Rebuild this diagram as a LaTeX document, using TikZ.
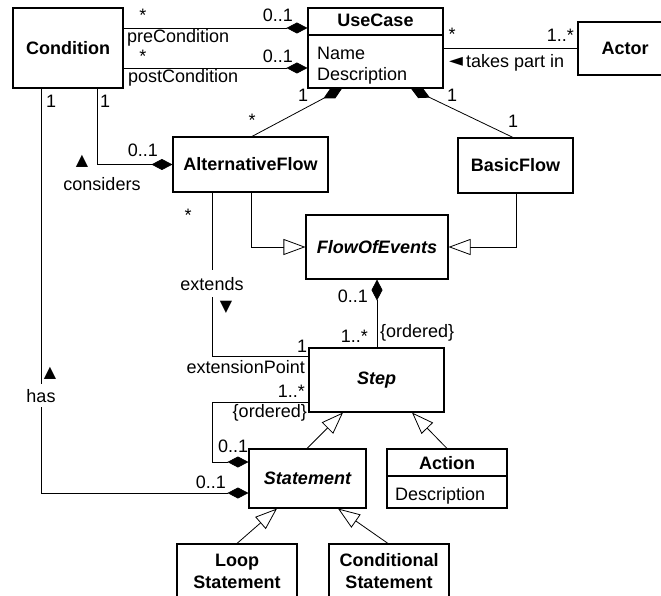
\documentclass[tikz,border=0pt]{standalone}
\usepackage{fontspec}
\setmainfont{Liberation Sans}
\newfontfamily\symfont{DejaVu Sans}
\usetikzlibrary{arrows.meta}
\newcommand\fs{\fontsize{18}{22}\selectfont}
\newcommand\symfs{\symfont\fontsize{16}{18}\selectfont}
\newcommand\ptrfs{\symfont\fontsize{18}{20}\selectfont}
\begin{document}
\begin{tikzpicture}[x=1pt,y=-1pt,
  box/.style={draw, line width=1.1pt, fill=white, inner sep=0pt, align=center, font=\fs\bfseries},
  abox/.style={box, font=\fs\bfseries\itshape},
  lbl/.style={inner sep=0pt, font=\fs},
  blbl/.style={inner sep=0pt, font=\fs\bfseries},
  sym/.style={inner sep=0pt, font=\symfs},
  assoc/.style={draw, line width=0.8pt},
  comp/.style={assoc, -{Diamond[length=21pt,width=11pt]}},
  gen/.style={assoc, -{Triangle[open,length=22pt,width=16pt,fill=white]}},
  sepline/.style={draw, line width=1.1pt}
]
\useasboundingbox (0,0) rectangle (661,596);
\clip (0,0) rectangle (661,596);

% classes
\node[box, minimum width=110pt, minimum height=80pt] (cond) at (68,48) {Condition};
\node[box, minimum width=135pt, minimum height=80pt] (uc) at (375.5,48) {};
\node[box, minimum width=94pt, minimum height=53pt] (actor) at (625,48.5) {Actor};
\node[box, minimum width=155pt, minimum height=55pt] (alt) at (250.5,164.5) {AlternativeFlow};
\node[box, minimum width=115pt, minimum height=55pt] (basic) at (515.5,165.5) {BasicFlow};
\node[abox, minimum width=142pt, minimum height=64pt] (foe) at (377,247) {FlowOfEvents};
\node[abox, minimum width=135pt, minimum height=64pt] (step) at (376.5,380) {Step};
\node[abox, minimum width=117pt, minimum height=59pt] (stmt) at (307.5,478.5) {Statement};
\node[box, minimum width=120pt, minimum height=59pt] (action) at (447,478.5) {};
\node[box, minimum width=120pt, minimum height=55pt] (loop) at (237,571.5) {Loop\\Statement};
\node[box, minimum width=120pt, minimum height=55pt] (condst) at (389,571.5) {Conditional\\Statement};

% compartments
\draw[sepline] (uc.west |- 0,35) -- (uc.east |- 0,35);
\node[blbl, anchor=base] (ucname) at (375.5,27) {UseCase};
\node[lbl, anchor=base west] (ucattr1) at (317,60) {Name};
\node[lbl, anchor=base west] (ucattr2) at (317,81) {Description};
\draw[sepline] (action.west |- 0,476) -- (action.east |- 0,476);
\node[blbl, anchor=base] (actname) at (447,469) {Action};
\node[lbl, anchor=base west] (actattr) at (395,500) {Description};

% connectors
\draw[comp] (cond.east |- 0,28) -- (uc.west |- 0,28);
\draw[comp] (cond.east |- 0,68) -- (uc.west |- 0,68);
\draw[assoc] (uc.east |- 0,48) -- (actor.west |- 0,48);
\draw[comp] (alt.north -| 252,0) -- (uc.south -| 342,0);
\draw[comp] (basic.north -| 513,0) -- (uc.south -| 411,0);
\draw[comp] (cond.south -| 97,0) |- (alt.west);
\draw[comp] (cond.south -| 41,0) |- (stmt.west |- 0,493);
\draw[gen] (alt.south -| 251,0) |- (foe.west);
\draw[gen] (basic.south -| 516,0) |- (foe.east);
\draw[assoc, {Diamond[length=21pt,width=11pt]}-] (foe.south) -- (step.north -| foe.south);
\draw[assoc] (alt.south -| 212,0) |- (step.west |- 0,356);
\draw[comp] (step.west |- 0,402) -- (212,402) -- (212,462) -- (stmt.west |- 0,462);
\draw[gen] (stmt.north -| 307,0) -- (step.south -| 343,0);
\draw[gen] (action.north -| 447,0) -- (step.south -| 412,0);
\draw[gen] (loop.north -| 237,0) -- (stmt.south -| 277,0);
\draw[gen] (condst.north -| 388,0) -- (stmt.south -| 338,0);

% labels
\node[lbl, anchor=base] (l1) at (143,22) {*};
\node[lbl, anchor=base east] (l2) at (293,22) {0..1};
\node[lbl, anchor=base west] (l3) at (127,43) {preCondition};
\node[lbl, anchor=base] (l4) at (143,63) {*};
\node[lbl, anchor=base east] (l5) at (293,63) {0..1};
\node[lbl, anchor=base west] (l6) at (128,83) {postCondition};
\node[lbl, anchor=base] (l7) at (452,41) {*};
\node[lbl, anchor=base east] (l8) at (574,42) {1..*};
\node[inner sep=0pt, font=\ptrfs] (l9a) at (456,62) {◄};
\node[lbl, anchor=base west] (l9) at (466,68) {takes part in};
\node[lbl, anchor=base west] (l10) at (100,108) {1};
\node[lbl, anchor=base west] (l11) at (46,108) {1};
\node[lbl, anchor=base east] (l12) at (158,157) {0..1};
\node[sym] (l13) at (82,161) {▲};
\node[lbl, anchor=base] (l14) at (102,191) {considers};
\node[lbl, anchor=base] (l15) at (252,127) {*};
\node[lbl, anchor=base west] (l16) at (298,102) {1};
\node[lbl, anchor=base west] (l17) at (447,102) {1};
\node[lbl, anchor=base] (l18) at (513,128) {1};
\node[lbl, anchor=base] (l19) at (188,222) {*};
\node[lbl, anchor=base, fill=white, inner xsep=1pt, inner ysep=7pt] (l20) at (212,290) {extends};
\node[sym] (l21) at (226,307) {▼};
\node[lbl, anchor=base west] (l22) at (297,352) {1};
\node[lbl, anchor=base east] (l23) at (305,373) {extensionPoint};
\node[lbl, anchor=base east] (l24) at (368,302) {0..1};
\node[lbl, anchor=base east] (l25) at (368,342) {1..*};
\node[lbl, anchor=base west] (l26) at (380,337) {\{ordered\}};
\node[lbl, anchor=base east] (l27) at (305,397) {1..*};
\node[lbl, anchor=base east] (l28) at (307,417) {\{ordered\}};
\node[lbl, anchor=base west] (l29) at (218,452) {0..1};
\node[lbl, anchor=base east] (l30) at (226,488) {0..1};
\node[lbl, anchor=base, fill=white, inner xsep=1pt, inner ysep=5pt] (l31) at (41,402) {has};
\node[sym] (l32) at (50,373) {▲};
\end{tikzpicture}
\end{document}
